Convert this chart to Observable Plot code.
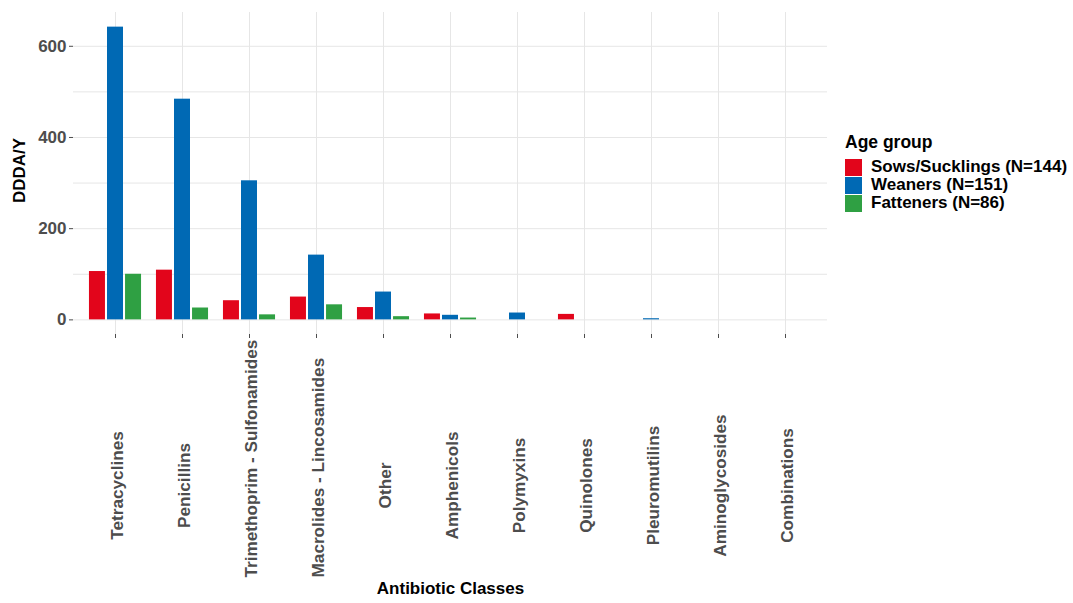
<!DOCTYPE html>
<html>
<head>
<meta charset="utf-8">
<script src="https://cdn.jsdelivr.net/npm/d3@7"></script>
<script src="https://cdn.jsdelivr.net/npm/@observablehq/plot@0.6"></script>
<style>
  html, body { margin: 0; padding: 0; background: #fff; }
  #wrap { position: relative; width: 1073px; height: 603px; font-family: "Liberation Sans", Arial, sans-serif; }
  #legend { position: absolute; left: 845px; top: 132px; font-weight: bold; color: #000; }
  #legend .title { font-size: 17.5px; margin-bottom: 5px; }
  #legend .item { display: flex; align-items: center; height: 18px; font-size: 17px; }
  #legend .sw { width: 17px; height: 17px; margin-right: 9px; }
</style>
</head>
<body>
<div id="wrap"><div id="chart"></div><div id="legend"></div></div>
<script>
const categories = ["Tetracyclines", "Penicillins", "Trimethoprim - Sulfonamides", "Macrolides - Lincosamides", "Other", "Amphenicols", "Polymyxins", "Quinolones", "Pleuromutilins", "Aminoglycosides", "Combinations"];
const groups = ["Sows/Sucklings (N=144)", "Weaners (N=151)", "Fatteners (N=86)"];
const sows      = [106, 109, 42, 50, 27, 13, 0, 12, 0, 0, 0];
const weaners   = [642, 484, 305, 142, 61, 10, 15, 0, 2.5, 0, 0];
const fatteners = [100, 26, 11, 33, 7, 4, 0, 0, 0, 0, 0];
const colors = ["#E2051B", "#0069B4", "#2FA043"];
const yTicks = [0, 200, 400, 600];
const yGrid = [0, 100, 200, 300, 400, 500, 600];

const series = [sows, weaners, fatteners];
const data = categories.flatMap((c, i) => series.map((s, g) => ({cat: c, group: groups[g], value: s[i]})));

const W = 1073, H = 603, mL = 73, mR = 246, mT = 12, mB = 269;
const step = (W - mL - mR) / (categories.length + 0.2);
const offsets = [-0.268 * step, 0, 0.268 * step];
const ymax = d3.max(data, d => d.value);
const pad = 0.05 * ymax;
const font = '"Liberation Sans", Arial, sans-serif';
const frameBottom = H - mB;
const labelSize = 17.2;

// label placement: centred in the label band, but kept above the bottom limit
const ctx = document.createElement("canvas").getContext("2d");
ctx.font = `bold ${labelSize}px "Liberation Sans", Arial, sans-serif`;
const labelCenter = c => Math.min(485, 577 - ctx.measureText(c).width / 2) - frameBottom;

const chart = Plot.plot({
  width: W, height: H,
  marginLeft: mL, marginRight: mR, marginTop: mT, marginBottom: mB,
  style: {fontFamily: font, fontWeight: "bold", background: "#fff"},
  x: {domain: categories, paddingInner: 0.762, paddingOuter: 0.481, label: null},
  y: {domain: [-pad, ymax + pad], label: null},
  color: {domain: groups, range: colors},
  marks: [
    Plot.gridY(yGrid, {stroke: "#e6e6e6", strokeOpacity: 1, strokeWidth: 1}),
    Plot.gridX({stroke: "#e6e6e6", strokeOpacity: 1, strokeWidth: 1}),
    ...groups.map((g, k) => Plot.barY(data.filter(d => d.group === g), {
      x: "cat", y: "value", fill: "group", dx: offsets[k]
    })),
    Plot.axisY(yTicks, {tickSize: 4, tickPadding: 3, color: "#4d4d4d", fontSize: 17, fontWeight: "bold", label: null}),
    Plot.axisX({tickSize: 4, tickFormat: () => "", color: "#4d4d4d", label: null}),
    ...categories.map(c => Plot.text([c], {
      x: d => d, text: d => d, frameAnchor: "bottom", dy: labelCenter(c), dx: 7,
      rotate: -90, textAnchor: "middle", fontSize: labelSize, fontWeight: "bold", fill: "#4d4d4d"
    })),
    Plot.text(["Antibiotic Classes"], {text: d => d, frameAnchor: "bottom", dy: 259, fontSize: 17, fontWeight: "bold", fill: "#000"}),
    Plot.text(["DDDA/Y"], {text: d => d, frameAnchor: "left", dx: -54, dy: -3, rotate: -90, textAnchor: "middle", fontSize: 17, fontWeight: "bold", fill: "#000"})
  ]
});
document.getElementById("chart").appendChild(chart);

const legend = d3.select("#legend");
legend.append("div").attr("class", "title").text("Age group");
groups.forEach((g, i) => {
  const it = legend.append("div").attr("class", "item");
  it.append("div").attr("class", "sw").style("background", colors[i]);
  it.append("span").text(g);
});
</script>
</body>
</html>
